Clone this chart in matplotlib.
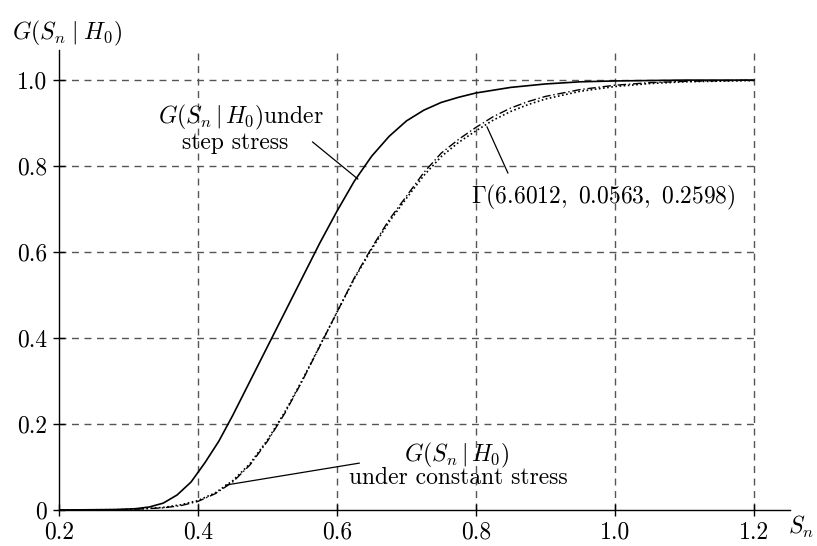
import matplotlib
matplotlib.use("Agg")
import matplotlib.pyplot as plt

plt.rcParams['font.family'] = 'serif'
plt.rcParams['font.serif'] = ['cmr10']
plt.rcParams['mathtext.fontset'] = 'cm'
plt.rcParams['axes.formatter.use_mathtext'] = True

# Data
s_step = [0.20, 0.28, 0.31, 0.33, 0.35, 0.37, 0.39, 0.41, 0.43, 0.45, 0.475, 0.50,
          0.525, 0.55, 0.575, 0.60, 0.625, 0.65, 0.675, 0.70, 0.725, 0.75, 0.775,
          0.80, 0.85, 0.90, 0.95, 1.00, 1.10, 1.20]
g_step = [0.0, 0.001, 0.003, 0.007, 0.016, 0.035, 0.065, 0.11, 0.16, 0.22, 0.30, 0.38,
          0.46, 0.54, 0.62, 0.695, 0.765, 0.823, 0.869, 0.905, 0.930, 0.948, 0.960,
          0.970, 0.983, 0.991, 0.996, 0.998, 1.0, 1.0]

s_const = [0.20, 0.30, 0.35, 0.375, 0.40, 0.425, 0.45, 0.475, 0.50, 0.525, 0.55, 0.575,
           0.60, 0.625, 0.65, 0.675, 0.70, 0.725, 0.75, 0.775, 0.80, 0.825, 0.85, 0.875,
           0.90, 0.95, 1.00, 1.05, 1.10, 1.20]
g_const = [0.0, 0.001, 0.005, 0.01, 0.02, 0.038, 0.065, 0.105, 0.16, 0.225, 0.30, 0.38,
           0.46, 0.54, 0.61, 0.675, 0.73, 0.785, 0.83, 0.862, 0.89, 0.915, 0.935, 0.95,
           0.962, 0.978, 0.988, 0.994, 0.997, 1.0]

s_gamma = [0.20, 0.30, 0.35, 0.375, 0.40, 0.425, 0.45, 0.475, 0.50, 0.525, 0.55, 0.575,
           0.60, 0.625, 0.65, 0.675, 0.70, 0.725, 0.75, 0.775, 0.80, 0.825, 0.85, 0.875,
           0.90, 0.95, 1.00, 1.05, 1.10, 1.20]
g_gamma = [0.0, 0.001, 0.006, 0.012, 0.022, 0.04, 0.068, 0.108, 0.163, 0.228, 0.302, 0.381,
           0.46, 0.538, 0.607, 0.67, 0.725, 0.778, 0.822, 0.855, 0.882, 0.907, 0.927, 0.943,
           0.956, 0.974, 0.985, 0.992, 0.996, 0.999]

xticks = [0.2, 0.4, 0.6, 0.8, 1.0, 1.2]
xticklabels = ['0.2', '0.4', '0.6', '0.8', '1.0', '1.2']
yticks = [0.0, 0.2, 0.4, 0.6, 0.8, 1.0]
yticklabels = ['0', '0.2', '0.4', '0.6', '0.8', '1.0']

fig = plt.figure(figsize=(8.17, 5.46), dpi=100)
ax = fig.add_axes([59/817, 36/546, (790-59)/817, (510-50)/546])
ax.set_xlim(0.2, 1.252)
ax.set_ylim(0.0, 1.07)

gridc = '#555555'
for x in xticks[1:]:
    ax.plot([x, x], [0, 1.07], color=gridc, lw=1.0, ls=(0, (5, 4)), zorder=1)
for y in yticks[1:]:
    ax.plot([0.2, 1.2], [y, y], color=gridc, lw=1.0, ls=(0, (5, 4)), zorder=1)

ax.plot(s_step, g_step, color='black', lw=1.2, zorder=3)
ax.plot(s_const, g_const, color='black', lw=1.0, ls=(0, (6, 2, 1, 2)), zorder=3)
ax.plot(s_gamma, g_gamma, color='black', lw=1.2, ls=(0, (1, 1.5)), zorder=3)

for sp in ['top', 'right']:
    ax.spines[sp].set_visible(False)
for sp in ['left', 'bottom']:
    ax.spines[sp].set_linewidth(1.0)

ax.set_xticks(xticks)
ax.set_xticklabels(xticklabels)
ax.set_yticks(yticks)
ax.set_yticklabels(yticklabels)
ax.tick_params(direction='inout', length=9, width=1.0, labelsize=17, pad=4)

fs = 17
fig.text(12/817, 1 - 33/546, r'$G(S_n\;|\;H_0)$', fontsize=fs, ha='left', va='center')
fig.text(788/817, 1 - 527/546, r'$S_n$', fontsize=fs, ha='left', va='center')

# annotations
ax.text(0.462, 0.912, r'$G(S_n\,|\,H_0)$under', fontsize=fs, ha='center', va='center')
ax.text(0.453, 0.853, 'step stress', fontsize=fs, ha='center', va='center')
ax.plot([0.565, 0.630], [0.856, 0.77], color='black', lw=0.9, zorder=4)

ax.text(0.984, 0.728, r'$\Gamma(6.6012,\ 0.0563,\ 0.2598)$', fontsize=fs, ha='center', va='center')
ax.plot([0.846, 0.816], [0.784, 0.891], color='black', lw=0.9, zorder=4)

ax.text(0.773, 0.128, r'$G(S_n\,|\,H_0)$', fontsize=fs, ha='center', va='center')
ax.text(0.775, 0.074, 'under constant stress', fontsize=fs, ha='center', va='center')
ax.plot([0.44, 0.632], [0.058, 0.109], color='black', lw=0.9, zorder=4)

fig.savefig('out.png', dpi=100)
